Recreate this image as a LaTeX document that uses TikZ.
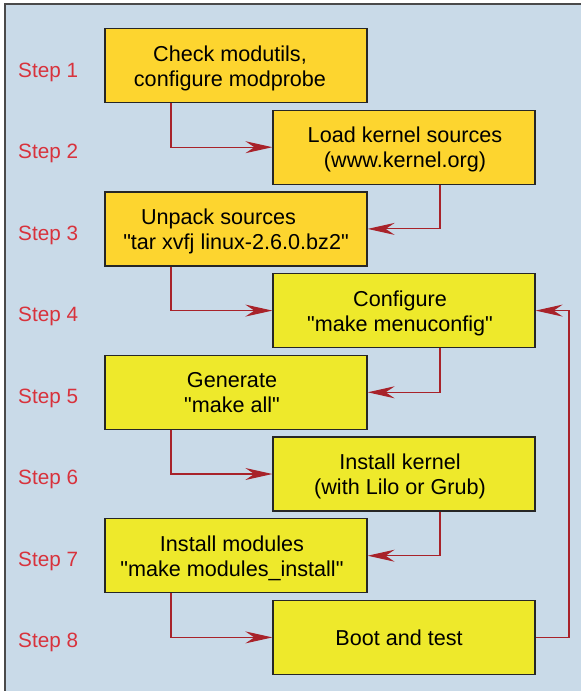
\documentclass[tikz,border=0pt]{standalone}
\usepackage{fontspec}
\setmainfont{Liberation Sans}
\usetikzlibrary{arrows.meta}
\definecolor{panelbg}{HTML}{C9DAE8}
\definecolor{boxorange}{HTML}{FDD52F}
\definecolor{boxyellow}{HTML}{EEE92B}
\definecolor{steptext}{HTML}{D8323C}
\definecolor{connred}{HTML}{A8222A}
\definecolor{framegray}{HTML}{4A4A4A}
\newcommand{\qt}{\textquotedbl}
% text block lowered by 3pt (dimensions kept), shifted horizontally by #1
\newcommand{\boxtext}[2][0pt]{\kern#1\kern#1\raisebox{-3pt}[\height][\depth]{\begin{tabular}{@{}c@{}}#2\end{tabular}}}
\tikzset{
  stepbox/.style={draw=black!85, line width=1.3pt, minimum width=262pt, minimum height=74pt,
    inner sep=0pt, font=\fontsize{21.6}{25}\selectfont},
  orangebox/.style={stepbox, fill=boxorange},
  yellowbox/.style={stepbox, fill=boxyellow},
  steplabel/.style={anchor=west, text=steptext, inner sep=0pt, font=\fontsize{20.7}{24}\selectfont},
  conn/.style={draw=connred, line width=1.1pt,
    -{Stealth[length=27pt, width=12pt, inset=9pt, fill=connred]}}
}
\begin{document}
\begin{tikzpicture}[x=1pt,y=-1pt]
\useasboundingbox (0,0) rectangle (581,691);
% panel
\fill[panelbg] (5,4) rectangle (585,695);
\draw[framegray, line width=1.3pt] (5,695) -- (5,4) -- (585,4);
% boxes
\node[orangebox] (b1) at (236,65.5) {\boxtext[-6pt]{Check modutils,\\configure modprobe}};
\node[orangebox] (b2) at (404,147.2) {\boxtext[1pt]{Load kernel sources\\(www.kernel.org)}};
\node[orangebox] (b3) at (236,228.9) {\boxtext{Unpack sources\rule{35pt}{0pt}\\\qt tar xvfj linux-2.6.0.bz2\qt}};
\node[yellowbox] (b4) at (404,310.6) {\boxtext[-4pt]{Configure\\\qt make menuconfig\qt}};
\node[yellowbox] (b5) at (236,392.3) {\boxtext[-4pt]{Generate\\\qt make all\qt}};
\node[yellowbox] (b6) at (404,474) {\boxtext[-4pt]{Install kernel\\(with Lilo or Grub)}};
\node[yellowbox] (b7) at (236,555.7) {\boxtext[-4pt]{Install modules\\\qt make modules\_install\qt}};
\node[yellowbox] (b8) at (404,637.4) {\boxtext[-5pt]{Boot and test}};
% step labels
\node[steplabel] (s1) at (18,72) {Step 1};
\node[steplabel] (s2) at (18,153) {Step 2};
\node[steplabel] (s3) at (18,235) {Step 3};
\node[steplabel] (s4) at (18,316) {Step 4};
\node[steplabel] (s5) at (18,398) {Step 5};
\node[steplabel] (s6) at (18,479) {Step 6};
\node[steplabel] (s7) at (18,561) {Step 7};
\node[steplabel] (s8) at (18,642) {Step 8};
% connector columns
\coordinate (xl) at (171,0);
\coordinate (xr) at (440,0);
\coordinate (xf) at (569,0);
% connectors
\draw[conn] (b1.south -| xl) |- (b2.west);
\draw[conn] (b2.south -| xr) |- (b3.east);
\draw[conn] (b3.south -| xl) |- (b4.west);
\draw[conn] (b4.south -| xr) |- (b5.east);
\draw[conn] (b5.south -| xl) |- (b6.west);
\draw[conn] (b6.south -| xr) |- (b7.east);
\draw[conn] (b7.south -| xl) |- (b8.west);
\draw[conn] (b8.east) -| (xf |- b4.east) -- (b4.east);
\end{tikzpicture}
\end{document}
